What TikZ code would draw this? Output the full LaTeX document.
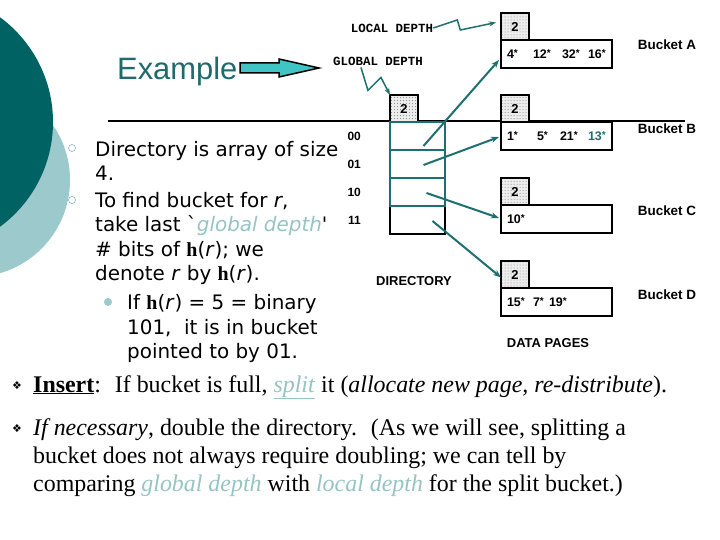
\documentclass[tikz,border=0pt]{standalone}
\usepackage{fontspec}
\setmainfont{Liberation Serif}
\newfontfamily\arialf{Liberation Sans}
\newfontfamily\verdf{DejaVu Sans}
\newfontfamily\courf{Liberation Mono}
\usetikzlibrary{arrows.meta,positioning,calc,patterns}
\definecolor{tealdark}{RGB}{0,98,98}
\definecolor{teallight}{RGB}{156,201,204}
\definecolor{tealtext}{RGB}{31,107,107}
\definecolor{tealline}{RGB}{30,112,112}
\definecolor{tealpale}{RGB}{150,196,196}
\definecolor{arrowcyan}{RGB}{64,196,196}
\newcommand\sta{\raisebox{2.5bp}{\fontsize{10}{10}\selectfont*}}

\begin{document}
\begin{tikzpicture}[x=1bp,y=-1bp,
    ldbox/.style={draw, line width=1.5bp, preaction={fill=gray!14}, pattern=dots, pattern color=gray,
      minimum width=28bp, minimum height=27bp, inner sep=0pt, outer sep=0pt,
      font=\arialf\bfseries\fontsize{13}{13}\selectfont},
    databox/.style={draw, line width=1.5bp, text width=99bp, inner xsep=6bp, inner ysep=0pt,
      minimum height=28bp, outer sep=0pt, align=left, anchor=north west,
      font=\arialf\bfseries\fontsize{12.5}{12.5}\selectfont},
    dircell/.style={draw, minimum width=55bp, minimum height=28bp, inner sep=0pt, outer sep=0pt},
    ptr/.style={draw=tealline, line width=2bp, -{Stealth[length=8bp,width=6bp]}},
    squig/.style={draw=tealline, line width=1.5bp, -{Stealth[length=7bp,width=5bp]}},
    smalllbl/.style={font=\arialf\bfseries\fontsize{13}{13}\selectfont, inner sep=0pt},
    bullettxt/.style={anchor=base west, inner sep=0pt, align=left,
      font=\verdf\fontsize{20}{24.5}\selectfont},
    bottomtxt/.style={anchor=base west, inner sep=0pt, align=left,
      font=\fontsize{24}{28}\selectfont}]
  \useasboundingbox (0,0) rectangle (720,540);
  \fill[white] (0,0) rectangle (720,540);
  % slide decoration
  \begin{scope}
    \clip (0,0) rectangle (720,540);
    \fill[teallight] (-27,180) circle[radius=97];
    \fill[tealdark] (-77,122) circle[radius=130];
  \end{scope}

  \node[anchor=base west, inner sep=0pt, text=tealtext, font=\arialf\fontsize{31}{31}\selectfont]
       (title) at (117,80) {Example};
  \filldraw[fill=arrowcyan, line width=1.5bp] (240,63) -- (279,63) -- (279,59) -- (319,68)
       -- (279,77) -- (279,73) -- (240,73) -- cycle;
  \draw[line width=1.5bp] (108,121) -- (685,121);

  % labels of the depths
  \node[inner sep=0pt, font=\courf\bfseries\fontsize{12.5}{12.5}\selectfont] (lbLocal) at (392,28) {LOCAL DEPTH};
  \node[inner sep=0pt, font=\courf\bfseries\fontsize{12.5}{12.5}\selectfont] (lbGlobal) at (378,61) {GLOBAL DEPTH};

  % directory
  \node[ldbox, anchor=south west] (gd) at (390,122) {2};
  \foreach \i in {0,1,2,3}
    \node[dircell, anchor=north west] (dir\i) at (390,122+28*\i) {};
  \draw[line width=1.5bp] (dir3.north west) rectangle (dir3.south east);
  \foreach \i in {0,1,2}
    \draw[tealline, line width=2bp] (dir\i.north west) rectangle (dir\i.south east);
  \foreach \i/\t in {0/00,1/01,2/10,3/11}
    \node[smalllbl, font=\arialf\bfseries\fontsize{12}{12}\selectfont, anchor=east, left=29bp of dir\i.center, xshift=-27.5bp] (lb\i) {\t};
  \node[smalllbl] (dirlbl) at (414,281) {DIRECTORY};

  % buckets
  \foreach \b/\y in {A/13,B/95,C/178,D/261}
    \node[ldbox, anchor=north west] (ld\b) at (501,\y) {2};
  \node[databox] (bA) at (ldA.south west)
       {\makebox[26bp][l]{4\sta}\makebox[29bp][l]{12\sta}\makebox[26bp][l]{32\sta}16\sta};
  \node[databox] (bB) at (ldB.south west)
       {\makebox[30bp][l]{1\sta}\makebox[23bp][l]{5\sta}\makebox[28bp][l]{21\sta}\textcolor{tealline}{13\sta}};
  \node[databox] (bC) at (ldC.south west) {10\sta};
  \node[databox] (bD) at (ldD.south west)
       {\makebox[26bp][l]{15\sta}\makebox[16bp][l]{7\sta}19\sta};
  \foreach \b/\y in {A/45,B/129,C/211,D/295}
    \node[smalllbl, font=\arialf\bfseries\fontsize{13.5}{13.5}\selectfont] (nm\b) at (667,\y) {Bucket \b};
  \node[smalllbl] (pageslbl) at (548,343) {DATA PAGES};

  % pointers
  \draw[ptr] ($(dir0.center)+(6,10)$) -- ($(bA.west)+(-2,6)$);
  \draw[ptr] ($(dir1.center)+(6,1)$) -- ($(bB.west)+(-2,1)$);
  \draw[ptr] ($(dir2.center)+(9,1)$) -- ($(bC.west)+(-2,-1)$);
  \draw[ptr] ($(dir3.center)+(15,1)$) -- ($(ldD.west)+(0,3)$);
  \draw[squig] (lbLocal.east) -- ++(24,-8) -- ++(3,10) -- ($(ldA.west)+(-5,-4)$);
  \draw[squig] ($(lbGlobal.south west)+(28,2)$) -- ++(7,23) -- ++(13,-13) -- (gd.north west);

  % bullet text
  \node[circle, draw=tealline!70, thin, minimum size=7bp, inner sep=0pt] (o1) at (72,148) {};
  \node[circle, draw=tealline!70, thin, minimum size=7bp, inner sep=0pt] (o2) at (72,200) {};
  \node[circle, fill=teallight, minimum size=8bp, inner sep=0pt] (o3) at (108,302) {};
  \node[bullettxt] (p1) at (95,180.5) {Directory is array of size\\4.};
  \node[bullettxt] (p2) at (95,280.5) {To find bucket for \textit{r},\\
       take last `\textcolor{tealpale}{\textit{global depth}}'\\
       \# bits of {\rmfamily\bfseries h}(\textit{r}); we\\
       denote \textit{r} by {\rmfamily\bfseries h}(\textit{r}).};
  \node[bullettxt] (p3) at (127,358.5) {If {\rmfamily\bfseries h}(\textit{r}) = 5 = binary\\
       101,~ it is in bucket\\pointed to by 01.};

  % bottom text
  \node[inner sep=0pt, font=\verdf\fontsize{11}{11}\selectfont] (d1) at (17,386) {❖};
  \node[inner sep=0pt, font=\verdf\fontsize{11}{11}\selectfont] (d2) at (17,429) {❖};
  \node[bottomtxt] (ins) at (33,392) {\underline{\textbf{Insert}}:~ If bucket is full,
       \textcolor{tealpale}{\underline{\textit{split}}} it (\textit{allocate new page, re-distribute}).};
  \node[bottomtxt] (nec) at (33,491) {\textit{If necessary}, double the directory.~ (As we will see, splitting a\\
       bucket does not always require doubling; we can tell by\\
       comparing \textcolor{tealpale}{\textit{global depth}} with \textcolor{tealpale}{\textit{local depth}} for the split bucket.)};
\end{tikzpicture}
\end{document}
